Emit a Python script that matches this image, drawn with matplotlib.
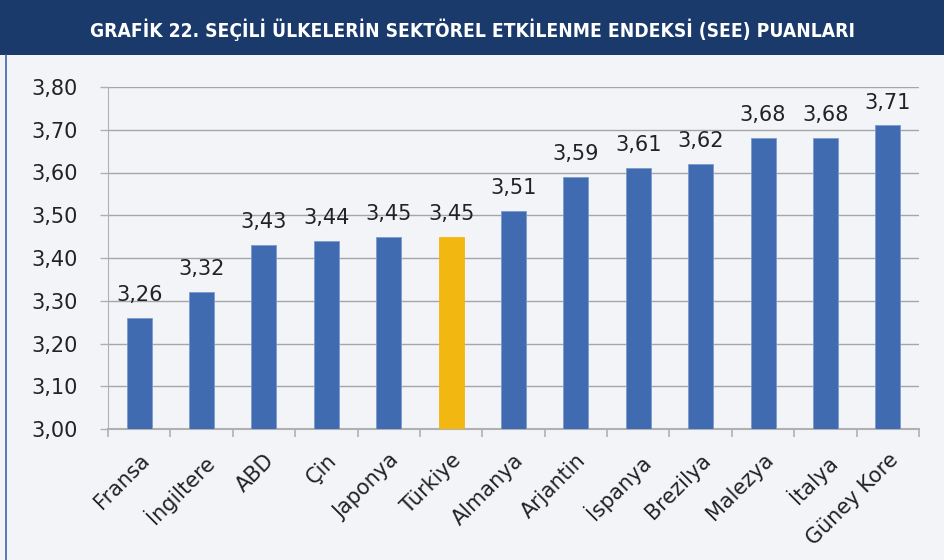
import matplotlib.pyplot as plt
import matplotlib.patches as patches
import matplotlib.transforms as mtransforms

# Data
countries = ['Fransa', 'İngiltere', 'ABD', 'Çin', 'Japonya', 'Türkiye', 'Almanya',
             'Arjantin', 'İspanya', 'Brezilya', 'Malezya', 'İtalya', 'Güney Kore']
scores = [3.26, 3.32, 3.43, 3.44, 3.45, 3.45, 3.51, 3.59, 3.61, 3.62, 3.68, 3.68, 3.71]
highlight = 'Türkiye'
yticks = [3.00, 3.10, 3.20, 3.30, 3.40, 3.50, 3.60, 3.70, 3.80]
title = 'GRAFİK 22. SEÇİLİ ÜLKELERİN SEKTÖREL ETKİLENME ENDEKSİ (SEE) PUANLARI'

W, H = 945, 560
fig = plt.figure(figsize=(W / 100, H / 100), dpi=100)
fig.patch.set_facecolor('#F3F4F8')

# title band
fig.add_artist(patches.Rectangle((0, 1 - 55 / H), 1, 55 / H, transform=fig.transFigure,
                                 facecolor='#1B3A6C', edgecolor='none'))
fig.text(0.5, 1 - 30 / H, title, ha='center', va='center', color='white',
         fontsize=13.8, fontweight='bold', family=['DejaVu Sans'], fontstretch='condensed')
# left frame line
fig.add_artist(plt.Line2D([6.5 / W, 6.5 / W], [0, 1 - 55 / H], transform=fig.transFigure,
                          color='#3D64A8', lw=1.2))

ax = fig.add_axes([108 / W, 1 - 429 / H, (919 - 108) / W, (429 - 87) / H])
ax.set_facecolor('#F3F4F8')

x = list(range(len(countries)))
colors = ['#F2B711' if c == highlight else '#416BB1' for c in countries]
bars = ax.bar(x, [s - 3.0 for s in scores], bottom=3.0, width=0.4, color=colors,
              edgecolor='#7C9AD0', linewidth=0.6, zorder=3)
for b, c in zip(bars, countries):
    if c == highlight:
        b.set_edgecolor('#F2B711')

for xi, s in zip(x, scores):
    ax.text(xi, s + 0.03, f'{s:.2f}'.replace('.', ','), ha='center', va='bottom',
            fontsize=15, color='#222222')

ax.set_ylim(3.0, 3.8)
ax.set_xlim(-0.5, len(countries) - 0.5)
ax.set_yticks(yticks)
ax.set_yticklabels([f'{v:.2f}'.replace('.', ',') for v in yticks], fontsize=15, color='#222222')
ax.yaxis.grid(True, color='#A6A6A6', lw=1.0, zorder=0)

ax.set_xticks([i - 0.5 for i in range(len(countries) + 1)], minor=False)
ax.set_xticklabels([])
ax.set_xticks(x, minor=True)
ax.set_xticklabels(countries, minor=True, rotation=45, ha='right', va='top',
                   rotation_mode='anchor', fontsize=15, color='#222222')
shift = mtransforms.ScaledTranslation(-5 / 100, 0, fig.dpi_scale_trans)
for lbl in ax.get_xticklabels(minor=True):
    lbl.set_transform(lbl.get_transform() + shift)
ax.tick_params(axis='x', which='minor', length=0, pad=15)
ax.tick_params(axis='x', which='major', length=6, color='#B0B0B0', width=1.2)
ax.tick_params(axis='y', length=6, color='#B0B0B0', width=1.0, pad=16)

for side in ['top', 'right']:
    ax.spines[side].set_visible(False)
ax.spines['left'].set_color('#B0B0B0')
ax.spines['bottom'].set_color('#B0B0B0')
ax.spines['bottom'].set_linewidth(1.5)

fig.savefig('out.png', dpi=100, facecolor=fig.get_facecolor())
